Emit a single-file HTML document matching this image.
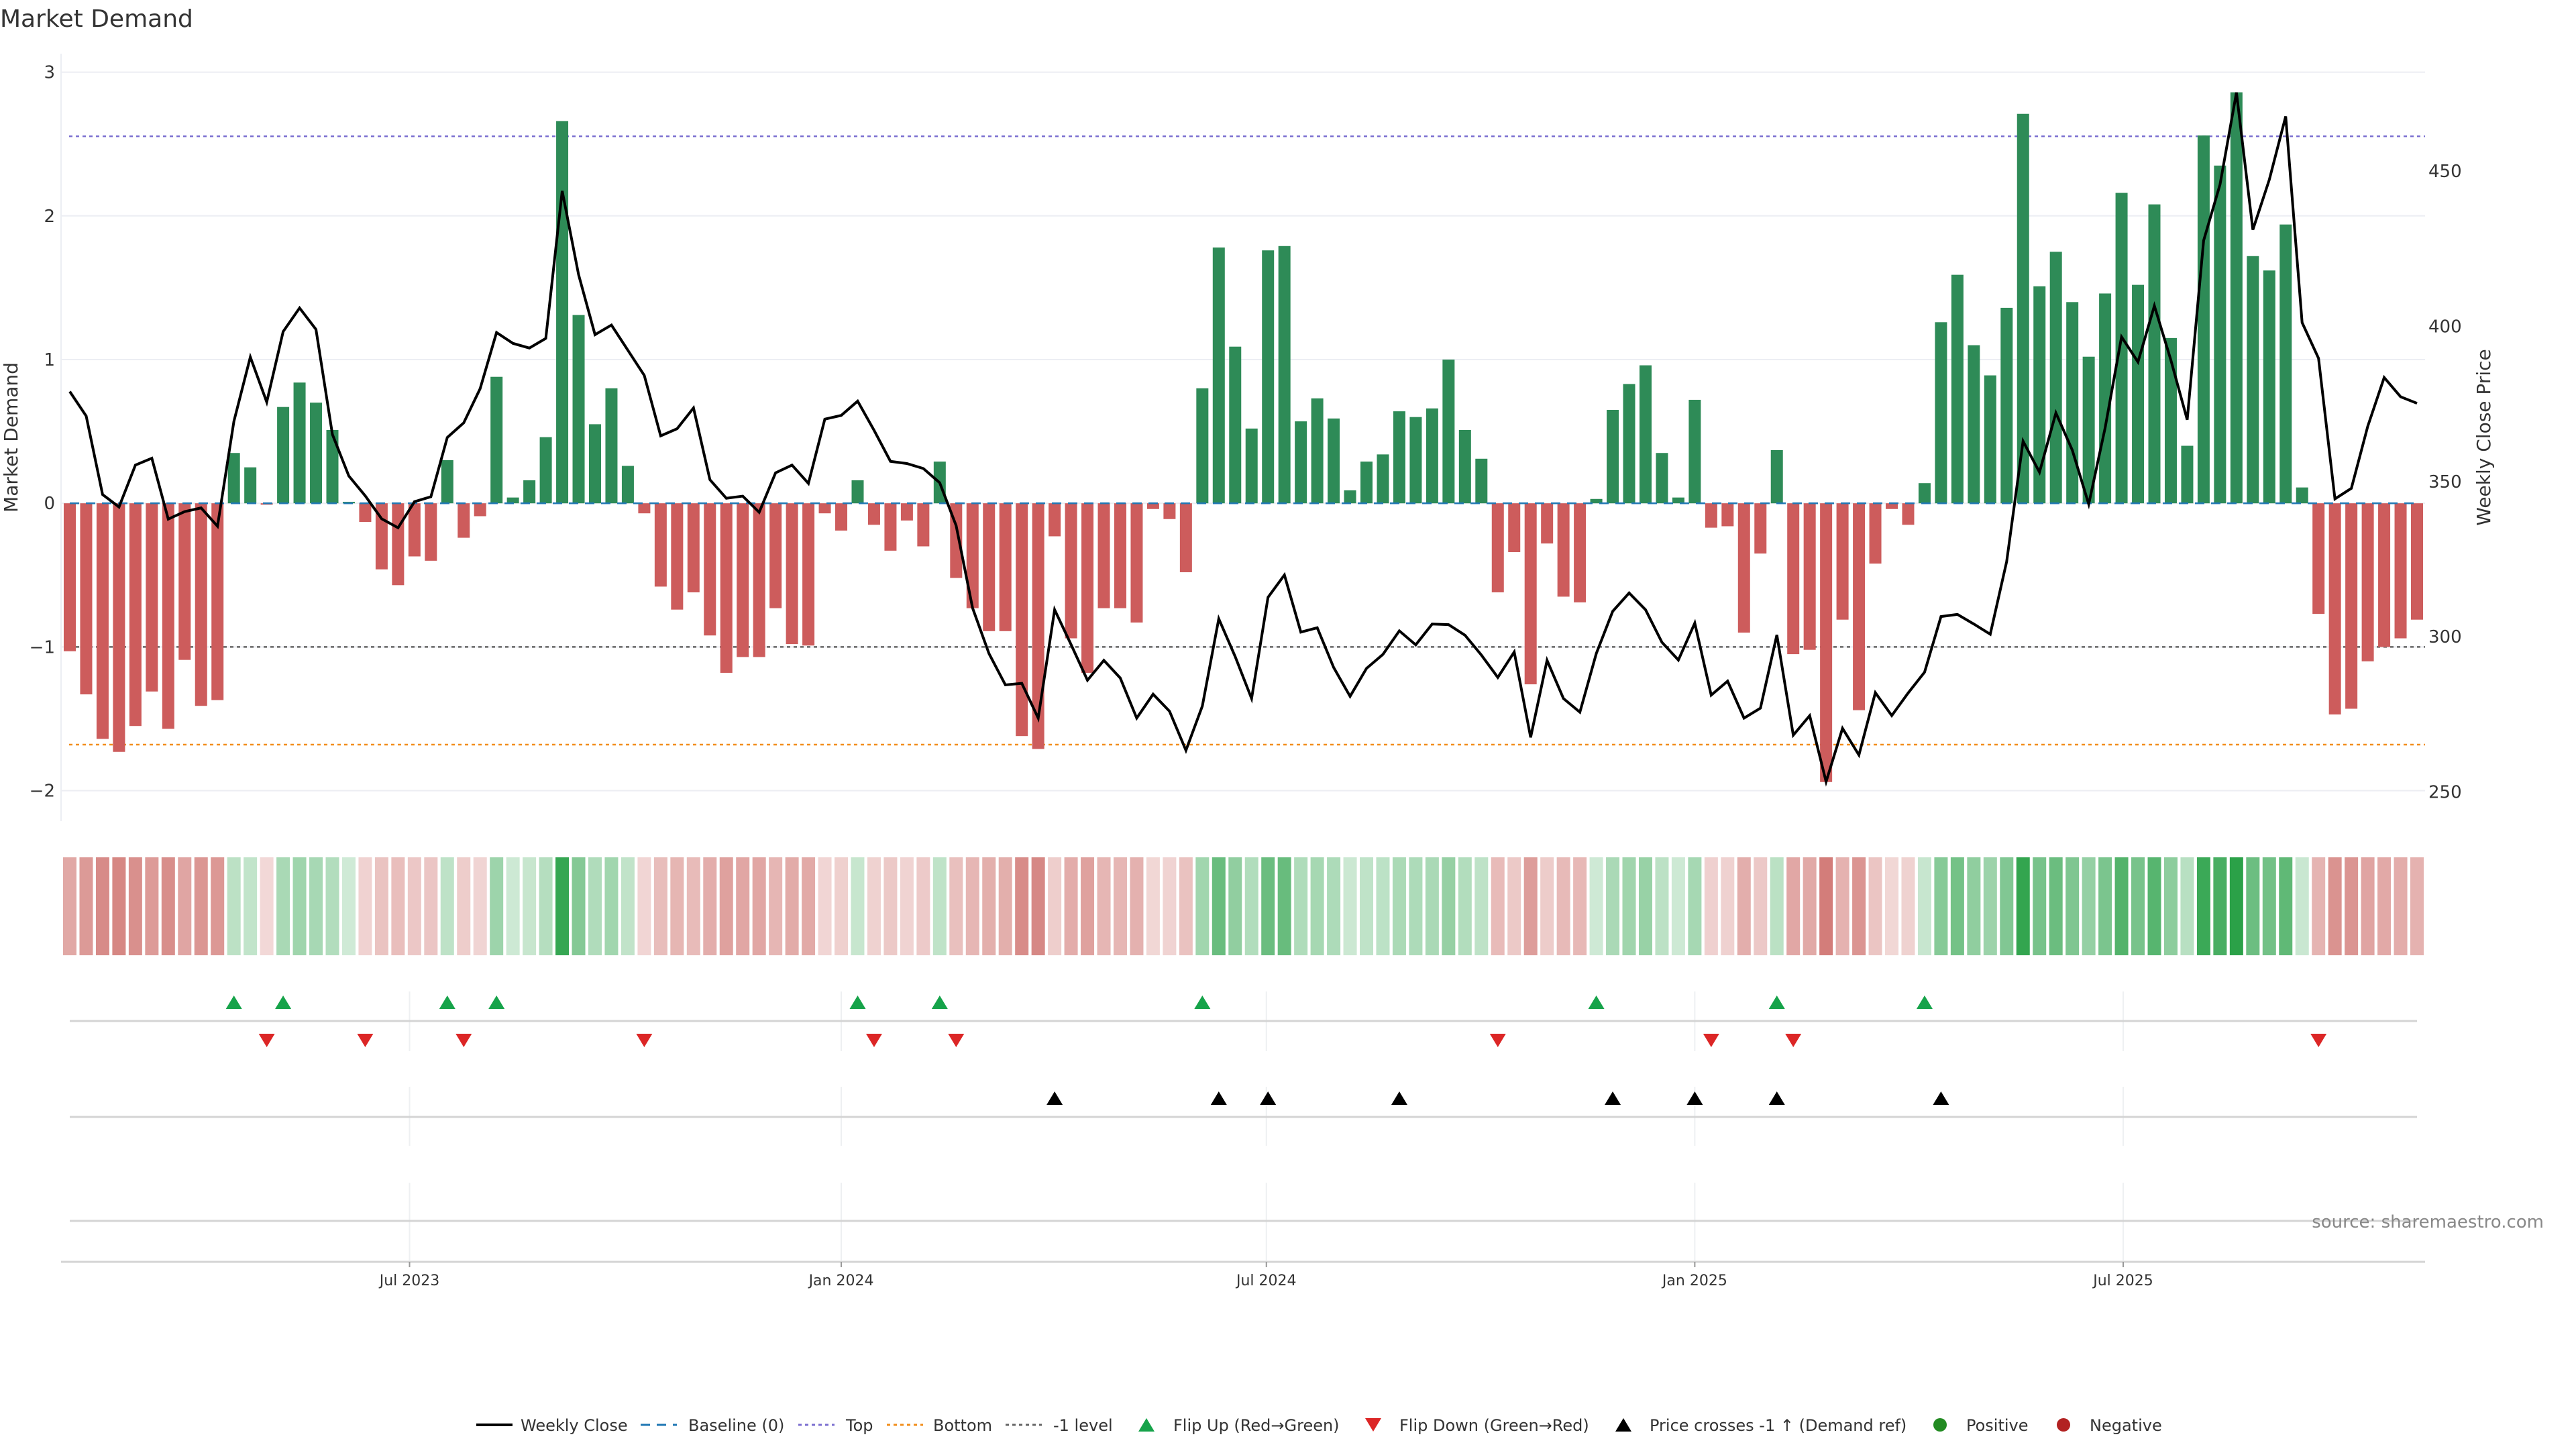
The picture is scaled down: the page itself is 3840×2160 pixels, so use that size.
<!DOCTYPE html>
<html><head><meta charset="utf-8"><title>Market Demand</title>
<style>
html,body{margin:0;padding:0;background:#fff;}
svg{display:block;font-family:"DejaVu Sans","Liberation Sans",sans-serif;}
</style></head>
<body>
<svg id="chart" width="3840" height="2160" viewBox="0 0 3840 2160" xmlns="http://www.w3.org/2000/svg">
<text x="0" y="40" font-size="36" fill="#333">Market Demand</text>
<g id="main"></g>
<g id="heat"></g>
<g id="flips"></g>
<g id="cross"></g>
<g id="xaxis"></g>
<text x="3792" y="1830" font-size="26" fill="#888" text-anchor="end">source: sharemaestro.com</text>
<g id="legend"></g>
</svg>
<script>
const demand = [-1.03,-1.33,-1.64,-1.73,-1.55,-1.31,-1.57,-1.09,-1.41,-1.37,
0.35,0.25,-0.01,0.67,0.84,0.70,0.51,0.01,-0.13,-0.46,
-0.57,-0.37,-0.40,0.30,-0.24,-0.09,0.88,0.04,0.16,0.46,
2.66,1.31,0.55,0.80,0.26,-0.07,-0.58,-0.74,-0.62,-0.92,
-1.18,-1.07,-1.07,-0.73,-0.98,-0.99,-0.07,-0.19,0.16,-0.15,
-0.33,-0.12,-0.30,0.29,-0.52,-0.73,-0.89,-0.89,-1.62,-1.71,
-0.23,-0.94,-1.18,-0.73,-0.73,-0.83,-0.04,-0.11,-0.48,0.80,
1.78,1.09,0.52,1.76,1.79,0.57,0.73,0.59,0.09,0.29,
0.34,0.64,0.60,0.66,1.00,0.51,0.31,-0.62,-0.34,-1.26,
-0.28,-0.65,-0.69,0.03,0.65,0.83,0.96,0.35,0.04,0.72,
-0.17,-0.16,-0.90,-0.35,0.37,-1.05,-1.02,-1.94,-0.81,-1.44,
-0.42,-0.04,-0.15,0.14,1.26,1.59,1.10,0.89,1.36,2.71,
1.51,1.75,1.40,1.02,1.46,2.16,1.52,2.08,1.15,0.40,
2.56,2.35,2.86,1.72,1.62,1.94,0.11,-0.77,-1.47,-1.43,
-1.10,-1.00,-0.94,-0.81];
const weeklyClose = [379.0,371.1,345.8,341.8,355.3,357.5,337.9,340.3,341.5,335.6,
369.4,390.1,375.6,398.3,405.9,399.0,365.2,351.8,345.4,338.0,
335.1,343.5,345.1,364.2,368.9,379.9,398.0,394.5,393.0,396.1,
443.6,416.6,397.3,400.4,392.3,384.2,364.7,367.0,373.7,350.6,
344.6,345.3,340.1,352.8,355.3,349.4,370.1,371.3,375.9,366.5,
356.5,355.8,354.2,349.6,335.8,309.3,294.6,284.5,285.0,273.8,
308.7,297.5,286.0,292.4,286.7,273.8,281.5,276.0,263.4,277.7,
305.8,293.6,280.1,312.7,319.9,301.5,302.9,290.1,280.8,289.8,
294.3,301.9,297.4,304.1,303.9,300.5,294.1,286.9,295.1,267.6,
292.4,280.1,275.7,294.6,308.2,314.1,308.7,298.2,292.5,304.4,
281.2,285.7,273.8,277.0,300.6,268.3,274.6,253.3,270.5,261.9,
282.0,274.6,281.9,288.6,306.5,307.2,304.1,300.8,324.2,363.0,
353.0,372.1,360.1,342.7,367.3,396.6,388.5,406.6,389.2,369.9,
427.6,445.7,475.3,431.1,447.2,467.6,401.2,389.7,344.4,347.8,
367.8,383.5,377.3,375.2];
const leftTicks = [-2,-1,0,1,2,3];
const rightTicks = [250,300,350,400,450];
const refLevels = [2.554,-1.68,-1];
const xTickLabels = ["Jul 2023","Jan 2024","Jul 2024","Jan 2025","Jul 2025"];
const xTickIndex = [20.7,47.0,72.9,99.0,125.1];
const priceRef = 296.7;

const NS="http://www.w3.org/2000/svg";
function mk(tag,attrs,parent,text){const e=document.createElementNS(NS,tag);for(const k in attrs)e.setAttribute(k,attrs[k]);if(text!==undefined)e.textContent=text;parent.appendChild(e);return e;}
const X0=104, X1=3603, N=demand.length;
const xs=i=>X0+i*(X1-X0)/(N-1);
const yD=v=>750.2-v*214.2;
const yP=p=>1180.6-(p-250)*4.628;
const PL=91, PR=3615;
const main=document.getElementById('main');

leftTicks.forEach(t=>{
  const g=mk('line',{x1:PL,x2:PR,y1:yD(t),y2:yD(t),stroke:'#eceef3','stroke-width':2},main);
  
  
  const l=mk('text',{x:82,y:yD(t)+9,'font-size':26,fill:'#333','text-anchor':'end'},main,t<0?'\u2212'+Math.abs(t):String(t));
  
  
});
const la=mk('line',{x1:PL,x2:PL,y1:80,y2:1224,stroke:'#eceef3','stroke-width':2},main);


rightTicks.forEach(t=>{
  const l=mk('text',{x:3620,y:yP(t)+9,'font-size':26,fill:'#333'},main,String(t));
  
  
});
const yt=mk('text',{x:0,y:0,'font-size':28,fill:'#333','text-anchor':'middle',transform:'translate(26,652) rotate(-90)'},main,'Market Demand');


const yt2=mk('text',{x:0,y:0,'font-size':28,fill:'#333','text-anchor':'middle',transform:'translate(3712,652) rotate(-90)'},main,'Weekly Close Price');



const refColors=['#7b6fd0','#f28e1c','#666'];
const refNames=['top-level-line','bottom-level-line','minus-one-level-line'];
refLevels.forEach((v,k)=>{
  const l=mk('line',{x1:PL+12,x2:PR,y1:yD(v),y2:yD(v),stroke:refColors[k],'stroke-width':2.5,'stroke-dasharray':'5,5'},main);
  
  
});
demand.forEach((v,i)=>{
  const y=yD(v), y0=yD(0);
  const r=mk('rect',{x:xs(i)-9,y:Math.min(y,y0),width:18,height:Math.max(Math.abs(y-y0),0.5),fill:v>=0?'#2e8b57':'#cd5c5c'},main);
  
  
});
const bl=mk('line',{x1:X0,x2:X1,y1:yD(0),y2:yD(0),stroke:'#1f77b4','stroke-width':2.5,'stroke-dasharray':'14,10'},main);


const pl=mk('polyline',{points:weeklyClose.map((p,i)=>xs(i)+','+yP(p)).join(' '),fill:'none',stroke:'#000','stroke-width':4,'stroke-linejoin':'miter'},main);



const heat=document.getElementById('heat');
demand.forEach((v,i)=>{
  const a=0.22+0.78*Math.min(Math.abs(v)/2.9,1);
  const c=v>=0?`rgba(40,160,70,${a})`:`rgba(195,80,75,${a})`;
  const r=mk('rect',{x:xs(i)-10,y:1278,width:20,height:146,fill:c},heat);
  
  
});

const flips=document.getElementById('flips'), cross=document.getElementById('cross');
const panels=[[1478,1567],[1620,1708],[1763,1879]];
xTickIndex.forEach(ti=>{
  panels.forEach(p=>{
    const g=mk('line',{x1:xs(ti),x2:xs(ti),y1:p[0],y2:p[1],stroke:'#eef0f2','stroke-width':2},flips);
    
    
  });
});
[1522,1665,1820].forEach(y=>{
  const l=mk('line',{x1:X0,x2:X1,y1:y,y2:y,stroke:'#d4d4d4','stroke-width':3},flips);
  
  
});
function tri(x,y,up,color,parent,name){
  const pts=up?`${x-12},${y+10} ${x+12},${y+10} ${x},${y-10}`:`${x-12},${y-10} ${x+12},${y-10} ${x},${y+10}`;
  const t=mk('polygon',{points:pts,fill:color},parent);
  
  
}
for(let i=1;i<N;i++){
  if(demand[i]>0&&demand[i-1]<=0) tri(xs(i),1494,true,'#16a34a',flips,'flip-up-marker');
  if(demand[i]<=0&&demand[i-1]>0) tri(xs(i),1551,false,'#dc2626',flips,'flip-down-marker');
  if(weeklyClose[i]>priceRef&&weeklyClose[i-1]<=priceRef) tri(xs(i),1637,true,'#000',cross,'price-cross-marker');
}

const xa=document.getElementById('xaxis');
const ax=mk('line',{x1:PL,x2:PR,y1:1881,y2:1881,stroke:'#d4d4d4','stroke-width':3},xa);


xTickIndex.forEach((ti,k)=>{
  const tk=mk('line',{x1:xs(ti),x2:xs(ti),y1:1881,y2:1889,stroke:'#999','stroke-width':2},xa);
  
  
  const l=mk('text',{x:xs(ti),y:1916,'font-size':22,fill:'#333','text-anchor':'middle'},xa,xTickLabels[k]);
  
  
});

const lg=document.getElementById('legend');
const LY=2124;
function ltext(x,s){const t=mk('text',{x:x,y:LY+9,'font-size':24,fill:'#333'},lg,s);}
function lline(x,color,dash,w){const l=mk('line',{x1:x,x2:x+54,y1:LY,y2:LY,stroke:color,'stroke-width':w,'stroke-dasharray':dash},lg);}
lline(710,'#000','none',4); ltext(776,'Weekly Close');
lline(955,'#1f77b4','14,10',3); ltext(1026,'Baseline (0)');
lline(1190,'#7b6fd0','5,5',3); ltext(1261,'Top');
lline(1322,'#f28e1c','5,5',3); ltext(1391,'Bottom');
lline(1499,'#666','5,5',3); ltext(1570,'-1 level');
tri(1709,LY,true,'#16a34a',lg,'legend-flip-up'); ltext(1749,'Flip Up (Red\u2192Green)');
tri(2047,LY,false,'#dc2626',lg,'legend-flip-down'); ltext(2086,'Flip Down (Green\u2192Red)');
tri(2420,LY,true,'#000',lg,'legend-price-cross'); ltext(2459,'Price crosses -1 \u2191 (Demand ref)');
const d1=mk('circle',{cx:2892,cy:LY,r:10,fill:'#228b22'},lg);


ltext(2931,'Positive');
const d2=mk('circle',{cx:3076,cy:LY,r:10,fill:'#b22222'},lg);


ltext(3115,'Negative');
</script>
</body></html>
